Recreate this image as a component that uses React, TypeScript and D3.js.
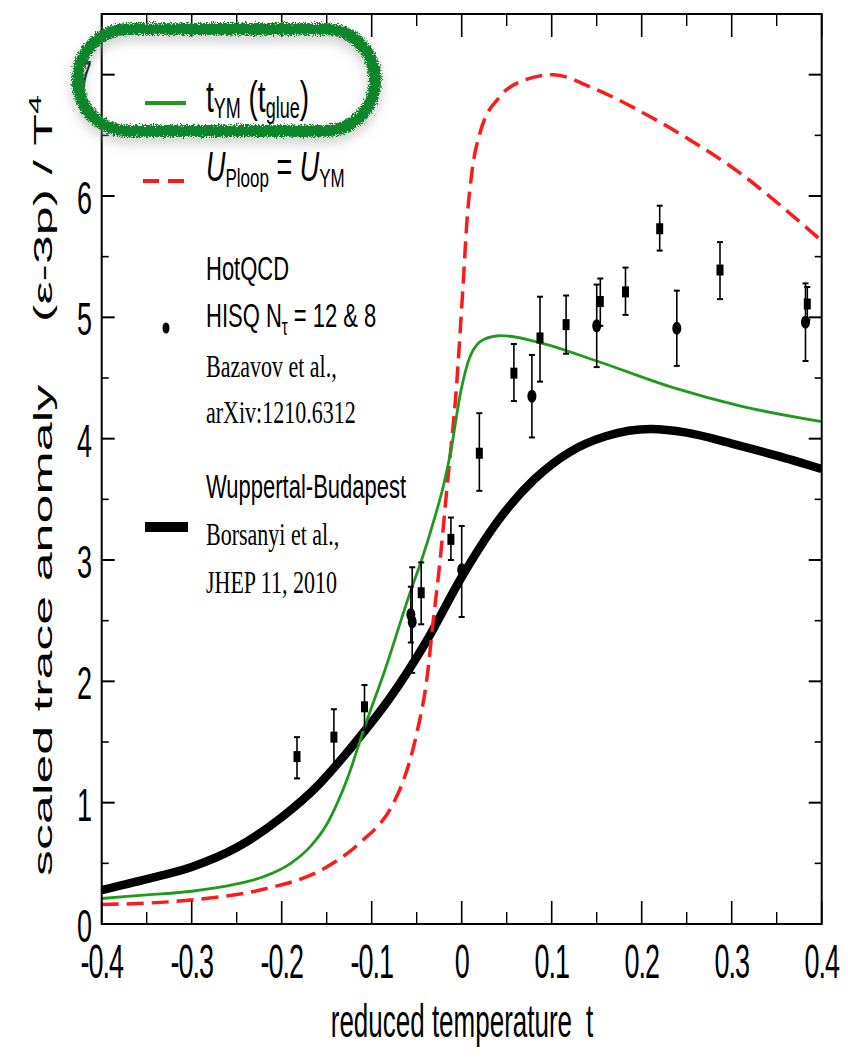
import React from "react";
import * as d3 from "d3";

const W = 848;
const H = 1063;

// axes
const xDomain = [-0.4, 0.4];
const yDomain = [0, 7.5];
const xMajor = [-0.4, -0.3, -0.2, -0.1, 0, 0.1, 0.2, 0.3, 0.4];
const xMajorLabels = ["-0.4", "-0.3", "-0.2", "-0.1", "0", "0.1", "0.2", "0.3", "0.4"];
const xMinor = [-0.35, -0.25, -0.15, -0.05, 0.05, 0.15, 0.25, 0.35];
const yMajor = [0, 1, 2, 3, 4, 5, 6, 7];
const yMajorLabels = ["0", "1", "2", "3", "4", "5", "6", "7"];
const yMinor = [0.5, 1.5, 2.5, 3.5, 4.5, 5.5, 6.5];

// Wuppertal-Budapest (thick black)
const wbT = [-0.4, -0.35, -0.3, -0.25, -0.2, -0.16, -0.12, -0.08, -0.04, 0, 0.04, 0.08, 0.12, 0.16, 0.21, 0.25, 0.3, 0.35, 0.4];
const wbV = [0.28, 0.37, 0.47, 0.63, 0.88, 1.14, 1.48, 1.86, 2.32, 2.86, 3.32, 3.66, 3.89, 4.02, 4.08, 4.05, 3.96, 3.86, 3.75];

// t_YM (t_glue) (green)
const ymT = [-0.4, -0.35, -0.3, -0.25, -0.22, -0.19, -0.168, -0.15, -0.138, -0.127, -0.108, -0.085, -0.0565, -0.045, -0.03, -0.02, -0.012, -0.001, 0.01, 0.025, 0.043, 0.0875, 0.15, 0.235, 0.309, 0.4];
const ymV = [0.21, 0.24, 0.27, 0.33, 0.39, 0.5, 0.64, 0.82, 1.0, 1.2, 1.62, 2.1, 2.75, 2.99, 3.35, 3.62, 3.9, 4.39, 4.69, 4.82, 4.85, 4.79, 4.64, 4.42, 4.27, 4.14];

// U_Ploop = U_YM (red dashed)
const plT = [-0.4, -0.298, -0.224, -0.15, -0.113, -0.0763, -0.0649, -0.05, -0.0389, -0.0316, -0.0241, -0.0167, -0.0056, 0.0014, 0.0059, 0.0114, 0.0203, 0.0426, 0.068, 0.102, 0.1426, 0.198, 0.254, 0.309, 0.361, 0.4];
const plV = [0.16, 0.2, 0.28, 0.47, 0.67, 0.99, 1.18, 1.57, 2.01, 2.5, 2.99, 3.57, 4.45, 5.25, 5.8, 6.2, 6.52, 6.82, 6.95, 7.0, 6.9, 6.7, 6.46, 6.19, 5.88, 5.63];

// HotQCD HISQ data: squares
const sqT = [-0.183, -0.142, -0.108, -0.045, -0.012, 0.0196, 0.058, 0.087, 0.116, 0.154, 0.182, 0.22, 0.287, 0.384];
const sqV = [1.38, 1.54, 1.79, 2.73, 3.17, 3.88, 4.54, 4.83, 4.94, 5.13, 5.21, 5.73, 5.39, 5.11];
const sqLo = [1.2, 1.3, 1.6, 2.47, 3.0, 3.57, 4.31, 4.47, 4.7, 4.93, 5.02, 5.55, 5.15, 4.98];
const sqHi = [1.54, 1.77, 1.97, 2.98, 3.35, 4.21, 4.78, 5.17, 5.18, 5.32, 5.41, 5.92, 5.62, 5.25];

// HotQCD HISQ data: circles
const ciT = [-0.0565, -0.055, 0.0, 0.078, 0.15, 0.239, 0.382];
const ciV = [2.55, 2.49, 2.92, 4.35, 4.93, 4.91, 4.96];
const ciLo = [2.32, 2.07, 2.53, 4.01, 4.59, 4.6, 4.64];
const ciHi = [2.78, 2.94, 3.28, 4.69, 5.27, 5.22, 5.28];

const SANS = "'Liberation Sans', Arial, Helvetica, sans-serif";
const SERIF = "'Liberation Serif', 'Times New Roman', serif";

type STProps = {
  x: number;
  y: number;
  size: number;
  sx?: number;
  sy?: number;
  anchor?: string;
  family?: string;
  ls?: number;
  children?: React.ReactNode;
};

function ST({ x, y, size, sx = 1, sy = 1, anchor = "start", family = SANS, ls = 0, children }: STProps) {
  return (
    <text
      transform={`translate(${x},${y}) scale(${sx},${sy})`}
      fontSize={size}
      fontFamily={family}
      textAnchor={anchor}
      letterSpacing={ls}
      fill="#000"
    >
      {children}
    </text>
  );
}

export default function App() {
  const x = d3.scaleLinear().domain(xDomain).range([101.7, 821.7]);
  const y = d3.scaleLinear().domain(yDomain).range([924, 14]);
  const L = x.range()[0];
  const R = x.range()[1];
  const B = y.range()[0];
  const T = y.range()[1];

  const line = d3
    .line<[number, number]>()
    .x((d) => x(d[0]))
    .y((d) => y(d[1]))
    .curve(d3.curveMonotoneX);

  const wb = line(wbT.map((t, i) => [t, wbV[i]] as [number, number])) || "";
  const ym = line(ymT.map((t, i) => [t, ymV[i]] as [number, number])) || "";
  const pl = line(plT.map((t, i) => [t, plV[i]] as [number, number])) || "";

  const tickSz = 27;
  const tickSy = 1.8;

  return (
    <svg
      width={W}
      height={H}
      viewBox={`0 0 ${W} ${H}`}
      style={{ position: "absolute", left: 0, top: 0, background: "#fff" }}
    >
      <defs>
        <clipPath id="plotClip">
          <rect x={L} y={T} width={R - L} height={B - T} />
        </clipPath>
        <filter id="rough" x="-20%" y="-40%" width="140%" height="190%">
          <feTurbulence type="fractalNoise" baseFrequency="0.9" numOctaves="2" seed="5" result="n" />
          <feDisplacementMap in="SourceGraphic" in2="n" scale="8" xChannelSelector="R" yChannelSelector="G" result="d" />
          <feGaussianBlur in="d" stdDeviation="6" result="b" />
          <feOffset in="b" dx="0" dy="6" result="o" />
          <feColorMatrix
            in="o"
            type="matrix"
            values="0 0 0 0 0.35  0 0 0 0 0.35  0 0 0 0 0.35  0 0 0 0.55 0"
            result="s"
          />
          <feMerge>
            <feMergeNode in="s" />
            <feMergeNode in="d" />
          </feMerge>
        </filter>
      </defs>

      <rect x={0} y={0} width={W} height={H} fill="#fff" />

      {/* curves */}
      <g clipPath="url(#plotClip)">
        <path d={wb} fill="none" stroke="#000" strokeWidth={8.5} strokeLinecap="butt" />
        <path d={pl} fill="none" stroke="#ff1a1a" strokeWidth={3.5} strokeDasharray="17,8" />
        <path d={ym} fill="none" stroke="#1f9a1f" strokeWidth={2.8} />
      </g>

      {/* data points */}
      <g stroke="#000" strokeWidth={1.6}>
        {sqT.map((t, i) => (
          <g key={"s" + i}>
            <line x1={x(t)} x2={x(t)} y1={y(sqLo[i])} y2={y(sqHi[i])} />
            <line x1={x(t) - 3} x2={x(t) + 3} y1={y(sqLo[i])} y2={y(sqLo[i])} strokeWidth={2} />
            <line x1={x(t) - 3} x2={x(t) + 3} y1={y(sqHi[i])} y2={y(sqHi[i])} strokeWidth={2} />
            <rect x={x(t) - 3.5} y={y(sqV[i]) - 5.5} width={7} height={11} fill="#000" stroke="none" />
          </g>
        ))}
        {ciT.map((t, i) => (
          <g key={"c" + i}>
            <line x1={x(t)} x2={x(t)} y1={y(ciLo[i])} y2={y(ciHi[i])} />
            <line x1={x(t) - 3} x2={x(t) + 3} y1={y(ciLo[i])} y2={y(ciLo[i])} strokeWidth={2} />
            <line x1={x(t) - 3} x2={x(t) + 3} y1={y(ciHi[i])} y2={y(ciHi[i])} strokeWidth={2} />
            <ellipse cx={x(t)} cy={y(ciV[i])} rx={4.5} ry={6.5} fill="#000" stroke="none" />
          </g>
        ))}
      </g>

      {/* frame & ticks */}
      <g stroke="#000" fill="none">
        <rect x={L} y={T} width={R - L} height={B - T} strokeWidth={2} />
        {xMajor.map((v, i) => (
          <g key={"xm" + i} strokeWidth={1.6}>
            <line x1={x(v)} x2={x(v)} y1={B} y2={B - 23} />
            <line x1={x(v)} x2={x(v)} y1={T} y2={T + 23} />
          </g>
        ))}
        {xMinor.map((v, i) => (
          <g key={"xn" + i} strokeWidth={1.4}>
            <line x1={x(v)} x2={x(v)} y1={B} y2={B - 12} />
            <line x1={x(v)} x2={x(v)} y1={T} y2={T + 12} />
          </g>
        ))}
        {yMajor.map((v, i) => (
          <g key={"ym" + i} strokeWidth={2}>
            <line x1={L} x2={L + 13} y1={y(v)} y2={y(v)} />
            <line x1={R} x2={R - 13} y1={y(v)} y2={y(v)} />
          </g>
        ))}
        {yMinor.map((v, i) => (
          <g key={"yn" + i} strokeWidth={1.6}>
            <line x1={L} x2={L + 7} y1={y(v)} y2={y(v)} />
            <line x1={R} x2={R - 7} y1={y(v)} y2={y(v)} />
          </g>
        ))}
      </g>

      {/* tick labels */}
      {xMajor.map((v, i) => (
        <ST key={"xl" + i} x={x(v)} y={978} size={tickSz} sy={tickSy} anchor="middle" ls={-1}>
          {xMajorLabels[i]}
        </ST>
      ))}
      {yMajor.map((v, i) => (
        <ST key={"yl" + i} x={92} y={y(v) + 18} size={tickSz} sy={1.7} anchor="end">
          {yMajorLabels[i]}
        </ST>
      ))}

      {/* axis titles */}
      <ST x={462} y={1037} size={26} sy={1.75} anchor="middle">
        reduced temperature<tspan dx={14}>t</tspan>
      </ST>
      <text
        transform={`translate(52,876) rotate(-90) scale(2.0,1)`}
        fontSize={26}
        fontFamily={SANS}
        textAnchor="start"
      >
        scaled trace anomaly
      </text>
      <text
        transform={`translate(52,95) rotate(-90) scale(2.0,1)`}
        fontSize={26}
        fontFamily={SANS}
        textAnchor="end"
      >
        (ε-3p) / T
        <tspan fontSize={17} dy={-11}>4</tspan>
      </text>

      {/* legend */}
      <line x1={145} x2={186} y1={103} y2={103} stroke="#1f9a1f" strokeWidth={4} />
      <ST x={206} y={112} size={28} sy={1.6}>
        t<tspan fontSize={18} dy={4}>YM</tspan>
        <tspan dy={-4}> (t</tspan>
        <tspan fontSize={18} dy={4}>glue</tspan>
        <tspan dy={-4}>)</tspan>
      </ST>

      <line x1={143} x2={184} y1={181} y2={181} stroke="#ff1a1a" strokeWidth={4} strokeDasharray="16,9" />
      <ST x={206} y={181} size={27} sy={1.55}>
        <tspan fontStyle="italic">U</tspan>
        <tspan fontSize={17} dy={4}>Ploop</tspan>
        <tspan dy={-4}> = </tspan>
        <tspan fontStyle="italic">U</tspan>
        <tspan fontSize={17} dy={4}>YM</tspan>
      </ST>

      <ellipse cx={166} cy={328} rx={3.5} ry={5.5} fill="#000" />
      <ST x={206} y={280} size={22} sy={1.55}>HotQCD</ST>
      <ST x={206} y={327} size={22} sy={1.55}>
        HISQ N<tspan fontSize={15} dy={5}>τ</tspan>
        <tspan dy={-5}> = 12 &amp; 8</tspan>
      </ST>
      <ST x={206} y={377} size={22} sy={1.45} family={SERIF}>Bazavov et al.,</ST>
      <ST x={206} y={423} size={22} sy={1.45} family={SERIF}>arXiv:1210.6312</ST>

      <line x1={145} x2={188} y1={527} y2={527} stroke="#000" strokeWidth={10} />
      <ST x={206} y={498} size={22} sy={1.55}>Wuppertal-Budapest</ST>
      <ST x={206} y={545} size={22} sy={1.45} family={SERIF}>Borsanyi et al.,</ST>
      <ST x={206} y={593} size={22} sy={1.45} family={SERIF}>JHEP 11, 2010</ST>

      {/* hand-drawn highlight oval */}
      <rect
        x={78}
        y={29}
        width={297}
        height={102}
        rx={50}
        ry={50}
        fill="none"
        stroke="#10862c"
        strokeWidth={12}
        filter="url(#rough)"
      />
    </svg>
  );
}
